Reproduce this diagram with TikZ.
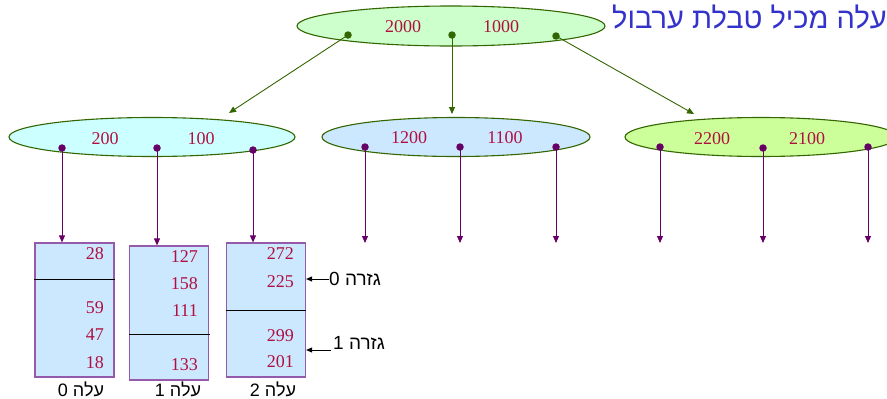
\documentclass[tikz,border=0pt]{standalone}
\usepackage{fontspec}
\setmainfont{Liberation Serif}
\newfontfamily\hebfont[Script=Hebrew]{Liberation Sans}
\TeXXeTstate=1
\usetikzlibrary{shapes.geometric,arrows.meta}

\definecolor{numred}{RGB}{176,16,64}
\definecolor{edgegreen}{RGB}{51,102,0}
\definecolor{ptrpurple}{RGB}{102,0,102}
\definecolor{boxedge}{RGB}{150,90,170}
\definecolor{boxfill}{RGB}{204,232,255}
\definecolor{titleblue}{RGB}{51,51,204}
\definecolor{rootfill}{RGB}{204,255,204}
\definecolor{cyanfill}{RGB}{204,255,255}
\definecolor{bluefill}{RGB}{204,232,255}
\definecolor{limefill}{RGB}{204,255,153}

\begin{document}
\begin{tikzpicture}[x=1pt,y=-1pt,
  keytext/.style={font=\fontsize{18}{18}\selectfont, text=numred, inner sep=0pt},
  hebtext/.style={font=\hebfont\fontsize{18}{18}\selectfont, inner sep=0pt},
  indexnode/.style={ellipse, draw=edgegreen, line width=1.1pt, inner sep=0pt},
  greendot/.style={circle, fill=edgegreen, inner sep=0pt, minimum size=7.5pt},
  purpledot/.style={circle, fill=ptrpurple, inner sep=0pt, minimum size=7.5pt},
  greenarrow/.style={draw=edgegreen, line width=0.9pt, -{Triangle[length=7pt,width=6pt]}},
  purplearrow/.style={draw=ptrpurple, line width=0.9pt, -{Triangle[length=7pt,width=6pt]}},
  leafbox/.style={rectangle, draw=boxedge, fill=boxfill, line width=1.2pt, minimum width=79pt, minimum height=134pt, inner sep=0pt},
  cutline/.style={draw=black, line width=0.8pt},
  markarrow/.style={draw=black, line width=0.9pt, -{Triangle[length=6pt,width=5pt]}}
]
\useasboundingbox (0,0) rectangle (887,399);

% title
\node[font=\hebfont\fontsize{29}{29}\selectfont, text=titleblue, anchor=west, inner sep=0pt]
  (title) at (612,17) {\beginR עלה מכיל טבלת ערבול\endR};

% root of the index
\node[indexnode, fill=rootfill, minimum width=308pt, minimum height=40pt] (root) at (451,26) {};
\node[keytext] (k2000) at (403,27) {2000};
\node[keytext] (k1000) at (501,27) {1000};
\node[greendot] (r0) at (348,35) {};
\node[greendot] (r1) at (452,35) {};
\node[greendot] (r2) at (556,36) {};

% second level
\node[indexnode, fill=cyanfill, minimum width=286pt, minimum height=39pt] (left) at (152,137) {};
\node[keytext] (k200) at (105,139) {200};
\node[keytext] (k100) at (201,139) {100};
\node[purpledot] (a0) at (62,148) {};
\node[purpledot] (a1) at (157,148) {};
\node[purpledot] (a2) at (253,150) {};

\node[indexnode, fill=bluefill, minimum width=268pt, minimum height=39pt] (mid) at (456,137) {};
\node[keytext] (k1200) at (409,138) {1200};
\node[keytext] (k1100) at (505,138) {1100};
\node[purpledot] (b0) at (365,147) {};
\node[purpledot] (b1) at (460,147) {};
\node[purpledot] (b2) at (556,147) {};

\node[indexnode, fill=limefill, minimum width=272pt, minimum height=39pt] (right) at (761,137) {};
\node[keytext] (k2200) at (712,139) {2200};
\node[keytext] (k2100) at (807,139) {2100};
\node[purpledot] (c0) at (660,147) {};
\node[purpledot] (c1) at (763,148) {};
\node[purpledot] (c2) at (868,147) {};

% root pointers
\coordinate (leftin) at (229,113);
\coordinate (midin) at (452,114);
\coordinate (rightin) at (694,114);
\draw[greenarrow] (r0.center) -- (leftin);
\draw[greenarrow] (r1.center) -- (midin);
\draw[greenarrow] (r2.center) -- (rightin);

% leaves
\node[leafbox] (leaf0) at (74.5,310) {};
\node[leafbox] (leaf1) at (169,313) {};
\node[leafbox] (leaf2) at (266,310) {};

\draw[cutline] (34,279) -- (leaf0.east |- 0,279);
\draw[cutline] (leaf1.west |- 0,334) -- (210,334);
\draw[cutline] (leaf2.west |- 0,310) -- (306,310);

\node[keytext, anchor=east] (v28) at (104,254) {28};
\node[keytext, anchor=east] (v59) at (104,308) {59};
\node[keytext, anchor=east] (v47) at (104,335) {47};
\node[keytext, anchor=east] (v18) at (104,363) {18};

\node[keytext, anchor=east] (v127) at (198,257) {127};
\node[keytext, anchor=east] (v158) at (198,284) {158};
\node[keytext, anchor=east] (v111) at (198,311) {111};
\node[keytext, anchor=east] (v133) at (198,365) {133};

\node[keytext, anchor=east] (v272) at (294,254) {272};
\node[keytext, anchor=east] (v225) at (294,282) {225};
\node[keytext, anchor=east] (v299) at (294,336) {299};
\node[keytext, anchor=east] (v201) at (294,362) {201};

% leaf pointers
\draw[purplearrow] (a0.center) -- (leaf0.north -| a0);
\draw[purplearrow] (a1.center) -- (leaf1.north -| a1);
\draw[purplearrow] (a2.center) -- (leaf2.north -| a2);
\foreach \p in {b0,b1,b2,c0,c1,c2}{
  \coordinate (\p end) at (\p |- 0,243);
  \draw[purplearrow] (\p.center) -- (\p end);
}

% leaf labels
\node[hebtext] (lab0) at (81,389) {\beginR עלה 0\endR};
\node[hebtext] (lab1) at (178,389) {\beginR עלה 1\endR};
\node[hebtext] (lab2) at (273,389) {\beginR עלה 2\endR};

% partition marks
\node[hebtext, font=\hebfont\fontsize{19}{19}\selectfont, anchor=west] (part0) at (329,279) {\beginR גזרה 0\endR};
\node[hebtext, font=\hebfont\fontsize{19}{19}\selectfont, anchor=west] (part1) at (333,343) {\beginR גזרה 1\endR};
\draw[markarrow] (part0.west) -- (leaf2.east |- part0.west);
\coordinate (mark1) at (331,350);
\draw[markarrow] (mark1) -- (leaf2.east |- mark1);
\end{tikzpicture}
\end{document}
